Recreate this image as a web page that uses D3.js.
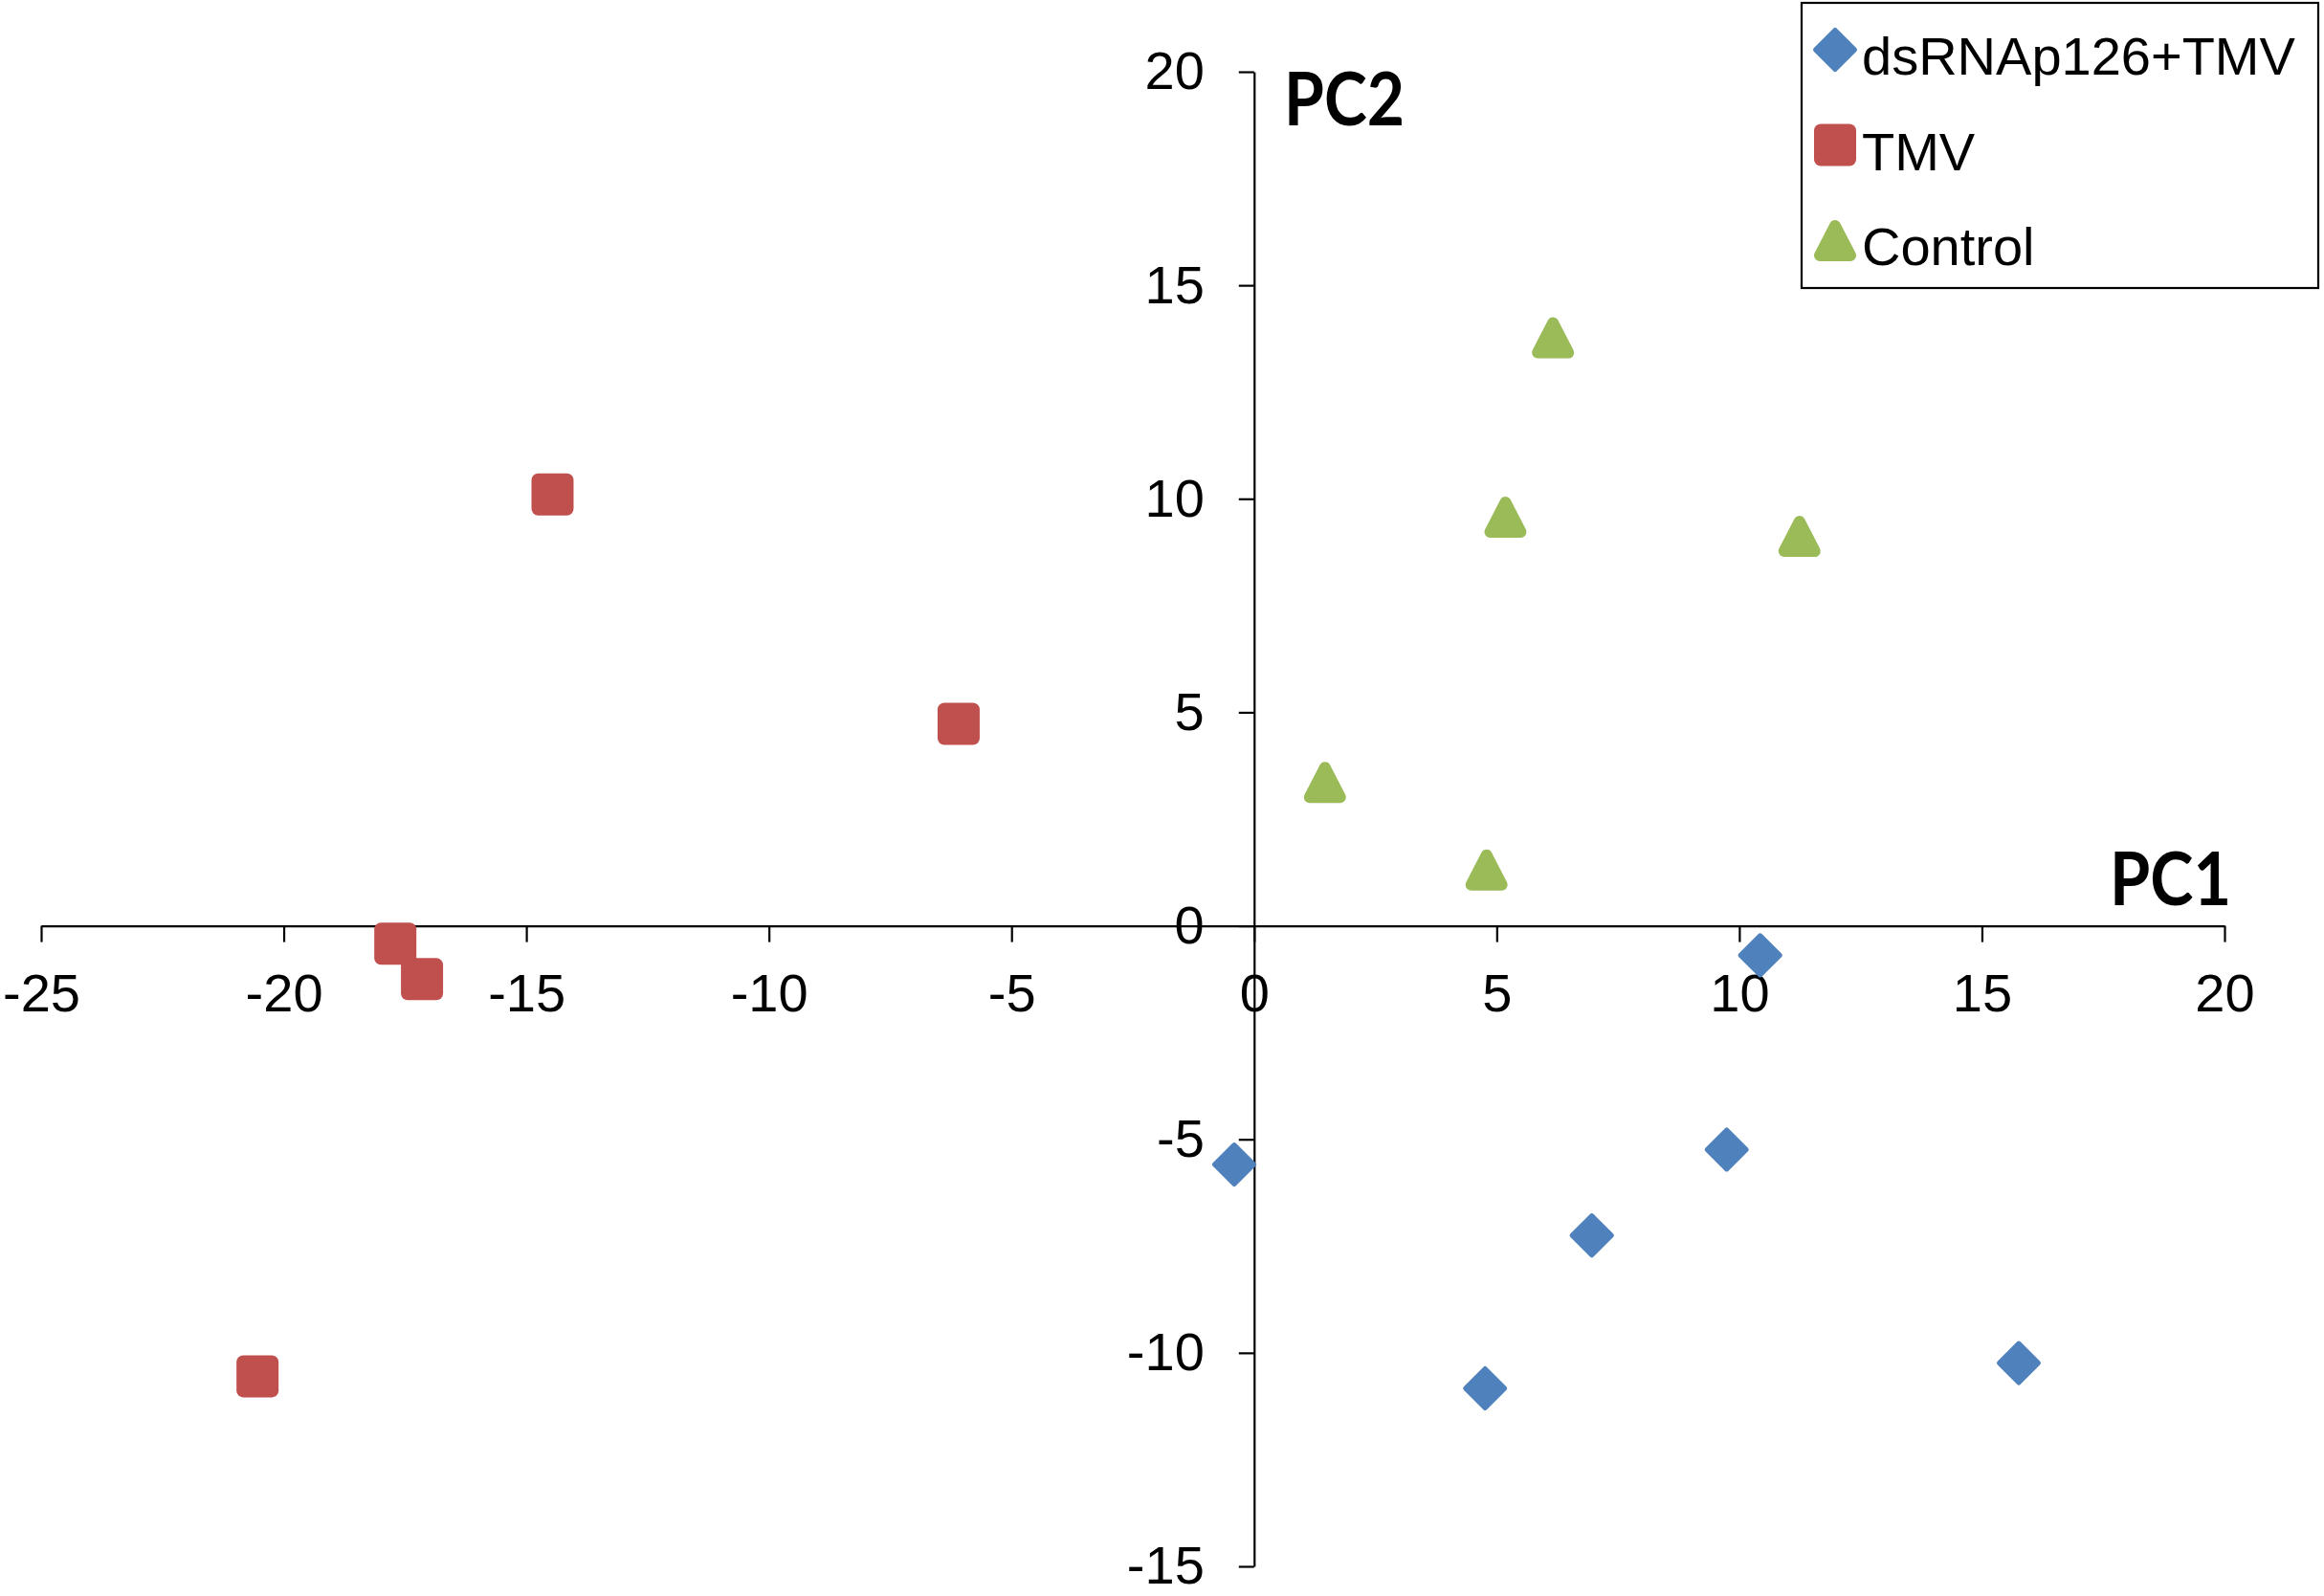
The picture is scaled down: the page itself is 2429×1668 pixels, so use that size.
<!DOCTYPE html>
<html>
<head>
<meta charset="utf-8">
<script src="https://cdn.jsdelivr.net/npm/d3@7.9.0/dist/d3.min.js"></script>
<style>
  body { margin: 0; background: #fff; }
  svg { display: block; }
  .tick text { font-family: "Liberation Sans", Arial, sans-serif; font-size: 56px; fill: #000; }
</style>
</head>
<body>
<svg id="chart" width="2429" height="1668"></svg>
<script>
// groups and scores
const groups = ['dsRNAp126+TMV', 'TMV', 'Control'];
const colors = ['#4F81BD', '#C0504D', '#9BBB59'];

const dsX = [10.43, -0.41, 9.74, 6.96, 4.76, 15.76];
const dsY = [-0.69, -5.59, -5.24, -7.25, -10.83, -10.24];

const tmvX = [-14.46, -6.09, -17.7, -17.15, -20.54];
const tmvY = [10.1, 4.73, -0.42, -1.25, -10.55];

const ctrlX = [6.16, 5.18, 11.24, 1.46, 4.79];
const ctrlY = [13.78, 9.58, 9.13, 3.37, 1.32];

const xTicks = [-25, -20, -15, -10, -5, 0, 5, 10, 15, 20];
const yTicks = [-15, -10, -5, 0, 5, 10, 15, 20];

const svg = d3.select('#chart');

const x = d3.scaleLinear().domain([-25, 20]).range([43, 2325]);
const y = d3.scaleLinear().domain([-15, 20]).range([1637, 75]);

// plain hyphen for negatives, like the original
const fmt = d => String(d);

/*axes crossing at 0,0*/
const xAxis = svg.append('g')
  .attr('transform', `translate(0,${y(0)})`)
  .call(d3.axisBottom(x).tickValues(xTicks).tickFormat(fmt)
    .tickSize(17).tickSizeOuter(0).tickPadding(33));

const yAxis = svg.append('g')
  .attr('transform', `translate(${x(0)},0)`)
  .call(d3.axisLeft(y).tickValues(yTicks).tickFormat(fmt)
    .tickSize(16).tickSizeOuter(0).tickPadding(36));

[xAxis, yAxis].forEach(g => {
  g.selectAll('path, line').attr('stroke', '#000').attr('stroke-width', 2.2);
});

/*axis titles*/
svg.append('text')
  .attr('x', 1342).attr('y', 131)
  .attr('font-family', 'Lato, "Open Sans", sans-serif')
  .attr('font-weight', 'bold')
  .attr('font-size', 76)
  .attr('textLength', 126).attr('lengthAdjust', 'spacingAndGlyphs')
  .text('PC2');

svg.append('text')
  .attr('x', 2205).attr('y', 946)
  .attr('font-family', 'Lato, "Open Sans", sans-serif')
  .attr('font-weight', 'bold')
  .attr('font-size', 76)
  .attr('textLength', 127).attr('lengthAdjust', 'spacingAndGlyphs')
  .text('PC1');

/*marker shapes*/
function drawMarker(g, shape, color) {
  if (shape === 'diamond') {
    g.append('path')
      .attr('d', 'M0,-20.5L20.5,0L0,20.5L-20.5,0Z')
      .attr('fill', color).attr('stroke', color)
      .attr('stroke-width', 5).attr('stroke-linejoin', 'round');
  } else if (shape === 'square') {
    g.append('rect')
      .attr('x', -22).attr('y', -22).attr('width', 44).attr('height', 44)
      .attr('rx', 7).attr('fill', color);
  } else {
    g.append('path')
      .attr('d', 'M0,-15L16,16L-16,16Z')
      .attr('fill', color).attr('stroke', color)
      .attr('stroke-width', 12).attr('stroke-linejoin', 'round');
  }
}

const series = [
  { name: groups[0], xs: dsX, ys: dsY, shape: 'diamond', color: colors[0] },
  { name: groups[1], xs: tmvX, ys: tmvY, shape: 'square', color: colors[1] },
  { name: groups[2], xs: ctrlX, ys: ctrlY, shape: 'triangle', color: colors[2] }
];

series.forEach(s => {
  const pts = s.xs.map((v, i) => ({ x: v, y: s.ys[i] }));
  svg.append('g').selectAll('g')
    .data(pts)
    .join('g')
    .attr('transform', d => `translate(${x(d.x)},${y(d.y)})`)
    .each(function () { drawMarker(d3.select(this), s.shape, s.color); });
});

/*legend*/
const legend = svg.append('g');
legend.append('rect')
  .attr('x', 1883).attr('y', 3).attr('width', 540).attr('height', 298)
  .attr('fill', '#fff').attr('stroke', '#000').attr('stroke-width', 2.2);

series.forEach((s, i) => {
  const item = legend.append('g').attr('transform', `translate(1918,${52 + i * 99.5})`);
  drawMarker(item, s.shape, s.color);
  item.append('text')
    .attr('x', 28).attr('y', 26)
    .attr('font-family', '"Liberation Sans", Arial, sans-serif')
    .attr('font-size', 56)
    .text(s.name);
});
</script>
</body>
</html>
